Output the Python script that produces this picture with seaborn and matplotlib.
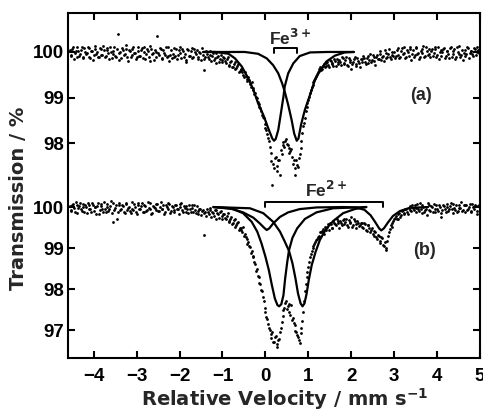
import numpy as np
import matplotlib
matplotlib.use("Agg")
import matplotlib.pyplot as plt
import seaborn as sns

# -----------------------------------------
# Data
# -----------------------------------------
# measured points, (a) and (b), velocity channels -4.56 ... 4.96 mm/s
# (two interleaved sets per spectrum, the second one half a channel further)
spec_a = [
    100.05, 99.92, 100.12, 99.98, 99.88, 100.03, 99.95, 100.10, 99.90, 100.01,
    99.97, 100.08, 99.86, 100.02, 99.94, 100.13, 99.99, 99.89, 100.06, 99.93,
    100.04, 99.91, 100.09, 99.84, 100.00, 99.96, 100.11, 99.90, 100.40, 99.98,
    99.87, 100.05, 99.95, 100.07, 99.81, 100.02, 99.93, 100.12, 99.97, 99.88,
    100.03, 99.92, 100.08, 99.99, 99.85, 100.06, 99.90, 100.14, 99.95, 99.83,
    100.01, 100.34, 99.94, 100.07, 99.87, 99.98, 100.10, 99.91, 99.80, 100.04,
    99.96, 99.89, 100.06, 99.93, 100.11, 99.86, 100.02, 99.95, 99.79, 100.05,
    99.92, 100.08, 99.88, 99.99, 100.04, 99.84, 99.97, 100.09, 99.60, 99.90,
    99.96, 99.85, 100.02, 99.91, 99.82, 99.98, 99.88, 99.79, 99.94, 99.83,
    99.86, 99.76, 99.90, 99.72, 99.81, 99.68, 99.78, 99.64, 99.73, 99.58,
    99.62, 99.50, 99.55, 99.40, 99.45, 99.30, 99.33, 99.16, 99.10, 98.98,
    98.86, 98.78, 98.62, 98.55, 98.32, 98.20, 98.05, 97.60, 97.08, 97.45,
    97.70, 97.38, 97.62, 97.85, 98.02, 97.92, 98.08, 97.95, 97.78, 97.86,
    97.55, 97.30, 97.62, 97.48, 97.75, 98.05, 98.38, 98.55, 98.80, 98.95,
    99.10, 99.22, 99.35, 99.42, 99.52, 99.58, 99.66, 99.62, 99.73, 99.70,
    99.78, 99.68, 99.80, 99.74, 99.85, 99.70, 99.77, 99.82, 99.72, 99.86,
    99.76, 99.88, 99.70, 99.83, 99.62, 99.79, 99.90, 99.74, 99.81, 99.68,
    99.84, 99.92, 99.78, 99.87, 99.75, 99.95, 99.82, 99.89, 99.72, 99.93,
    99.85, 100.02, 99.90, 99.80, 99.97, 99.88, 100.06, 99.84, 99.94, 100.01,
    99.92, 100.08, 99.86, 100.03, 99.95, 100.11, 99.90, 99.99, 100.07, 99.83,
    100.04, 99.93, 100.10, 99.97, 99.88, 100.06, 100.13, 99.91, 100.02, 99.96,
    99.89, 100.07, 99.98, 100.12, 99.94, 99.85, 100.05, 99.99, 100.09, 99.92,
    100.03, 99.87, 100.11, 99.96, 100.06, 99.90, 100.00, 100.14, 99.93, 99.82,
    100.05, 99.95, 100.09, 99.98, 100.02, 99.91, 100.07, 99.99, 100.04,
]
spec_a_2 = [
    99.94, 100.07, 99.85, 100.02, 100.10, 99.91, 100.04, 99.87, 100.08, 99.96,
    100.11, 99.90, 100.03, 99.82, 100.06, 99.95, 99.88, 100.09, 99.93, 100.14,
    99.89, 100.05, 99.97, 100.12, 99.86, 100.03, 99.92, 100.07, 99.83, 100.01,
    100.09, 99.94, 100.15, 99.90, 100.04, 99.88, 100.06, 99.97, 99.85, 100.10,
    99.91, 100.05, 99.86, 100.11, 99.95, 100.02, 99.80, 100.07, 99.98, 100.04,
    99.88, 99.97, 100.09, 99.84, 100.05, 99.93, 99.89, 100.12, 99.94, 99.87,
    100.08, 99.92, 99.85, 100.04, 99.97, 100.07, 99.90, 99.83, 100.06, 99.92,
    100.03, 99.86, 100.06, 99.95, 99.88, 100.01, 99.82, 99.93, 99.85, 100.02,
    99.89, 99.93, 99.80, 99.97, 99.86, 99.75, 99.91, 99.84, 99.78, 99.88,
    99.80, 99.84, 99.70, 99.77, 99.66, 99.74, 99.62, 99.69, 99.56, 99.61,
    99.55, 99.46, 99.48, 99.36, 99.38, 99.24, 99.20, 99.08, 99.02, 98.90,
    98.80, 98.70, 98.58, 98.42, 98.28, 98.12, 97.92, 97.78, 97.55, 97.68,
    97.50, 97.62, 97.30, 97.76, 97.95, 98.05, 97.98, 97.90, 97.82, 97.70,
    97.62, 97.45, 97.52, 97.68, 97.90, 98.22, 98.45, 98.70, 98.88, 99.02,
    99.16, 99.28, 99.38, 99.48, 99.55, 99.62, 99.60, 99.70, 99.66, 99.76,
    99.72, 99.82, 99.75, 99.69, 99.80, 99.84, 99.73, 99.79, 99.88, 99.74,
    99.83, 99.72, 99.86, 99.78, 99.74, 99.85, 99.70, 99.87, 99.76, 99.84,
    99.78, 99.86, 99.74, 99.91, 99.83, 99.79, 99.94, 99.80, 99.88, 99.85,
    99.96, 99.82, 99.92, 100.04, 99.86, 99.95, 99.89, 100.00, 99.91, 99.87,
    100.05, 99.94, 99.88, 100.09, 99.98, 99.86, 100.04, 99.92, 100.12, 99.96,
    99.90, 100.08, 99.95, 99.85, 100.03, 99.97, 99.89, 100.10, 99.94, 100.06,
    100.02, 99.91, 100.06, 99.88, 100.10, 99.99, 99.92, 100.07, 99.86, 100.03,
    99.95, 100.08, 99.90, 100.02, 99.84, 100.11, 99.96, 99.89, 100.05, 99.98,
    99.92, 100.10, 99.87, 100.03, 99.96, 100.08, 99.93, 100.12, 99.97,
]
spec_b = [
    100.02, 99.93, 100.08, 99.88, 100.05, 99.97, 100.11, 99.90, 99.99, 100.04,
    99.86, 100.06, 99.94, 100.10, 99.91, 99.99, 100.03, 99.82, 100.07, 99.95,
    100.12, 99.89, 100.01, 99.96, 100.15, 99.63, 99.92, 100.05, 99.87, 100.09,
    99.94, 100.02, 99.85, 100.08, 99.97, 99.90, 100.13, 99.93, 100.00, 99.84,
    100.06, 99.95, 100.10, 99.88, 100.03, 99.92, 99.98, 100.09, 99.86, 100.01,
    99.93, 100.07, 99.90, 100.12, 99.96, 99.83, 100.04, 99.95, 100.08, 99.91,
    100.00, 99.87, 100.06, 99.94, 99.99, 100.10, 99.89, 99.97, 100.03, 99.85,
    99.96, 100.05, 99.88, 99.93, 100.02, 99.84, 99.95, 99.90, 99.32, 99.87,
    99.94, 99.83, 99.98, 99.88, 99.79, 99.92, 99.85, 99.74, 99.90, 99.78,
    99.82, 99.70, 99.86, 99.66, 99.75, 99.60, 99.72, 99.55, 99.64, 99.50,
    99.45, 99.52, 99.35, 99.22, 99.15, 99.02, 98.92, 98.78, 98.62, 98.50,
    98.30, 98.12, 97.95, 97.70, 97.45, 97.28, 97.05, 96.90, 96.95, 96.72,
    96.85, 96.60, 96.78, 97.05, 97.35, 97.55, 97.70, 97.58, 97.45, 97.62,
    97.30, 97.12, 96.95, 96.82, 96.68, 97.05, 97.45, 97.95, 98.30, 98.55,
    98.78, 98.92, 99.05, 99.15, 99.22, 99.30, 99.38, 99.42, 99.35, 99.48,
    99.52, 99.45, 99.58, 99.50, 99.62, 99.55, 99.66, 99.48, 99.60, 99.68,
    99.58, 99.70, 99.52, 99.64, 99.75, 99.57, 99.66, 99.48, 99.62, 99.55,
    99.60, 99.50, 99.58, 99.42, 99.55, 99.38, 99.48, 99.30, 99.40, 99.22,
    99.30, 99.12, 99.25, 99.05, 98.95, 99.18, 99.40, 99.55, 99.62, 99.70,
    99.78, 99.72, 99.85, 99.80, 99.92, 99.86, 99.95, 99.83, 100.02, 99.90,
    99.97, 100.06, 99.88, 99.94, 100.10, 99.85, 100.01, 99.93, 99.80, 100.04,
    99.91, 99.99, 100.08, 99.87, 99.96, 100.05, 99.76, 99.92, 100.03, 99.89,
    100.00, 99.94, 100.09, 99.86, 99.98, 100.06, 99.90, 99.97, 100.12, 99.93,
    99.88, 100.04, 99.95, 100.08, 99.91, 99.99, 100.06, 99.82, 100.02,
]
spec_b_2 = [
    99.91, 100.06, 99.97, 100.12, 99.86, 100.03, 99.94, 100.08, 99.89, 100.01,
    100.09, 99.95, 99.87, 100.04, 99.99, 99.84, 100.11, 99.93, 100.02, 99.88,
    99.96, 100.07, 99.90, 100.03, 99.85, 100.10, 99.98, 99.72, 100.05, 99.92,
    100.04, 99.88, 100.09, 99.93, 100.01, 99.86, 99.96, 100.07, 99.89, 100.11,
    99.94, 100.02, 99.87, 100.05, 99.91, 100.13, 99.95, 99.84, 100.03, 99.97,
    100.08, 99.90, 100.01, 99.94, 100.06, 99.88, 99.99, 100.10, 99.86, 100.02,
    99.92, 100.05, 99.96, 99.84, 100.07, 99.93, 100.02, 99.88, 99.95, 100.06,
    99.87, 99.97, 100.04, 99.86, 99.91, 99.96, 99.80, 99.92, 99.85, 99.78,
    99.88, 99.92, 99.76, 99.86, 99.93, 99.72, 99.82, 99.88, 99.70, 99.84,
    99.74, 99.78, 99.64, 99.72, 99.58, 99.68, 99.52, 99.60, 99.44, 99.48,
    99.38, 99.30, 99.28, 99.10, 99.05, 98.88, 98.80, 98.65, 98.45, 98.32,
    98.15, 97.98, 97.80, 97.55, 97.32, 97.15, 97.00, 96.80, 96.72, 96.82,
    96.66, 96.75, 96.95, 97.20, 97.48, 97.66, 97.52, 97.64, 97.38, 97.25,
    97.18, 96.98, 96.88, 96.75, 96.92, 97.22, 97.70, 98.12, 98.42, 98.66,
    98.85, 99.00, 99.10, 99.20, 99.28, 99.25, 99.40, 99.46, 99.52, 99.44,
    99.58, 99.62, 99.50, 99.66, 99.58, 99.70, 99.60, 99.65, 99.56, 99.72,
    99.64, 99.55, 99.68, 99.60, 99.52, 99.70, 99.58, 99.66, 99.54, 99.62,
    99.52, 99.62, 99.45, 99.56, 99.48, 99.44, 99.35, 99.42, 99.26, 99.32,
    99.18, 99.28, 99.08, 99.15, 99.00, 99.30, 99.46, 99.52, 99.66, 99.74,
    99.70, 99.82, 99.76, 99.90, 99.84, 99.96, 99.88, 99.98, 99.92, 100.05,
    99.92, 99.98, 100.08, 99.90, 99.96, 100.04, 99.87, 99.95, 100.09, 99.93,
    100.02, 99.88, 99.95, 100.06, 99.91, 99.99, 99.85, 100.04, 99.94, 100.08,
    99.90, 100.03, 99.96, 100.07, 99.92, 99.87, 100.05, 99.98, 99.91, 100.04,
    100.06, 99.93, 99.99, 99.89, 100.07, 99.95, 100.02, 99.90, 100.05,
]

# fitted components of (a): Fe3+ doublet, each line traced separately
fit_a1_x = [-1.45, -1.17, -0.86, -0.71, -0.55, -0.40, -0.28, -0.17, -0.05, 0.08,
            0.16, 0.20, 0.24, 0.30, 0.36, 0.42, 0.45, 0.53, 0.65, 0.80, 1.04, 1.46, 2.06]
fit_a1_y = [100.00, 100.00, 99.96, 99.86, 99.68, 99.42, 99.17, 98.87, 98.62, 98.29,
            98.10, 98.05, 98.09, 98.29, 98.65, 99.02, 99.24, 99.53, 99.75, 99.91, 99.99, 100.00, 100.00]
fit_a2_x = [-1.45, -0.48, -0.17, 0.03, 0.18, 0.30, 0.39, 0.45, 0.53, 0.61, 0.67,
            0.73, 0.77, 0.83, 0.92, 1.04, 1.15, 1.27, 1.42, 1.62, 1.85, 2.06]
fit_a2_y = [100.00, 100.00, 99.96, 99.86, 99.71, 99.53, 99.31, 99.13, 98.84, 98.51, 98.21,
            98.05, 98.10, 98.40, 98.73, 99.06, 99.37, 99.59, 99.79, 99.92, 99.99, 100.00]

# fitted components of (b): two strong lines + Fe2+ doublet
fit_b1_x = [-1.21, -0.75, -0.52, -0.32, -0.19, -0.09, 0.00, 0.08, 0.15, 0.22, 0.28,
            0.32, 0.37, 0.42, 0.46, 0.51, 0.55, 0.63, 0.74, 0.92, 1.19, 1.58, 2.35]
fit_b1_y = [100.00, 99.95, 99.85, 99.64, 99.40, 99.11, 98.79, 98.46, 98.10, 97.77, 97.61,
            97.58, 97.63, 97.85, 98.26, 98.67, 98.95, 99.25, 99.48, 99.71, 99.87, 99.97, 100.00]
fit_b2_x = [-1.21, -0.36, -0.05, 0.18, 0.34, 0.45, 0.55, 0.63, 0.70, 0.76, 0.82,
            0.865, 0.91, 0.96, 1.01, 1.08, 1.17, 1.27, 1.41, 1.58, 1.81, 2.08, 2.35]
fit_b2_y = [100.00, 99.97, 99.85, 99.64, 99.40, 99.16, 98.93, 98.63, 98.26, 97.89, 97.65,
            97.58, 97.65, 97.89, 98.22, 98.59, 98.91, 99.20, 99.46, 99.66, 99.85, 99.95, 100.00]
fit_b3_x = [-1.21, -0.83, -0.52, -0.28, -0.13, -0.035, 0.03, 0.09, 0.18, 0.34, 0.53,
            0.80, 1.19, 1.81, 2.12, 2.31, 2.45, 2.56, 2.65, 2.70, 2.76, 2.86, 2.97, 3.13, 3.36, 3.79]
fit_b3_y = [100.00, 99.97, 99.87, 99.74, 99.60, 99.50, 99.44, 99.48, 99.60, 99.76, 99.87,
            99.95, 99.99, 100.00, 99.99, 99.93, 99.80, 99.63, 99.48, 99.43, 99.48, 99.63, 99.78, 99.90, 99.98, 100.00]

# brackets marking the doublets
fe3_bracket = [0.20, 0.74]
fe2_bracket = [0.00, 2.74]

# tick labels of both spectra
ticks_a = [100, 99, 98]
ticks_b = [100, 99, 98, 97]

# spectrum (a) is drawn higher up, with its own (slightly larger) scale
A_ZERO = 103.78
A_SCALE = 1.11


def shift_a(t):
    return A_ZERO + (np.asarray(t, dtype=float) - 100.0) * A_SCALE


# -----------------------------------------
# Plot
# -----------------------------------------
sns.set_theme(style="ticks")
plt.rcParams["font.family"] = ["Liberation Sans", "DejaVu Sans"]
plt.rcParams["font.weight"] = "bold"
plt.rcParams["mathtext.fontset"] = "dejavusans"
plt.rcParams["mathtext.default"] = "bf"

fig = plt.figure(figsize=(4.83, 4.11), dpi=100)
ax = fig.add_axes([68 / 483, 53 / 411, 412 / 483, 345 / 411])

vel_a = np.linspace(-4.56, 4.96, len(spec_a))
vel_a_2 = np.linspace(-4.54, 4.98, len(spec_a_2))
vel_b = np.linspace(-4.56, 4.96, len(spec_b))
vel_b_2 = np.linspace(-4.54, 4.98, len(spec_b_2))

dot_kw = dict(ax=ax, s=4, color="black", linewidth=0)
sns.scatterplot(x=vel_a, y=shift_a(spec_a), **dot_kw)
sns.scatterplot(x=vel_a_2, y=shift_a(spec_a_2), **dot_kw)
sns.scatterplot(x=vel_b, y=spec_b, **dot_kw)
sns.scatterplot(x=vel_b_2, y=spec_b_2, **dot_kw)

line_kw = dict(color="black", lw=1.6, sort=False, estimator=None, ax=ax)
sns.lineplot(x=fit_a1_x, y=shift_a(fit_a1_y), **line_kw)
sns.lineplot(x=fit_a2_x, y=shift_a(fit_a2_y), **line_kw)
sns.lineplot(x=fit_b1_x, y=fit_b1_y, **line_kw)
sns.lineplot(x=fit_b2_x, y=fit_b2_y, **line_kw)
sns.lineplot(x=fit_b3_x, y=fit_b3_y, **line_kw)

# doublet brackets
ya_top, ya_leg = 103.885, 103.75
ax.plot([fe3_bracket[0], fe3_bracket[0], fe3_bracket[1], fe3_bracket[1]],
        [ya_leg, ya_top, ya_top, ya_leg], color="black", lw=1.4)
yb_top, yb_leg = 100.13, 100.0
ax.plot([fe2_bracket[0], fe2_bracket[0], fe2_bracket[1], fe2_bracket[1]],
        [yb_leg, yb_top, yb_top, yb_leg], color="black", lw=1.4)

ax.text(0.58, 103.95, r"Fe$^{3+}$", ha="center", va="baseline", fontsize=12.5, fontweight="bold")
ax.text(1.42, 100.24, r"Fe$^{2+}$", ha="center", va="baseline", fontsize=12.5, fontweight="bold")
ax.text(3.62, 102.73, "(a)", ha="center", va="center", fontsize=13, fontweight="bold")
ax.text(3.71, 98.95, "(b)", ha="center", va="center", fontsize=13, fontweight="bold")

ax.set_xlim(-4.6, 5.0)
ax.set_ylim(96.32, 104.73)
ax.set_xticks(range(-4, 6))
ytick_pos = list(shift_a(ticks_a)) + ticks_b
ax.set_yticks(ytick_pos)
ax.set_yticklabels([str(t) for t in ticks_a + ticks_b])

for side in ["left", "right", "top", "bottom"]:
    ax.spines[side].set_visible(True)
    ax.spines[side].set_linewidth(1.5)
    ax.spines[side].set_color("black")
ax.tick_params(direction="in", length=5, width=1.5, top=True, right=True,
               labelsize=13.5, colors="black")
ax.tick_params(axis="x", pad=7)
ax.tick_params(axis="y", pad=3)
for lbl in ax.get_xticklabels() + ax.get_yticklabels():
    lbl.set_fontweight("bold")

fig.text(285 / 483, (411 - 406) / 411, r"Relative Velocity / mm s$^{-1}$",
         ha="center", va="baseline", fontsize=14, fontweight="bold", family="DejaVu Sans")
fig.text(19 / 483, 1 - 198 / 411, "Transmission / %", rotation=90,
         ha="center", va="center", fontsize=14, fontweight="bold", family="DejaVu Sans")

fig.savefig("out.png", dpi=100)
